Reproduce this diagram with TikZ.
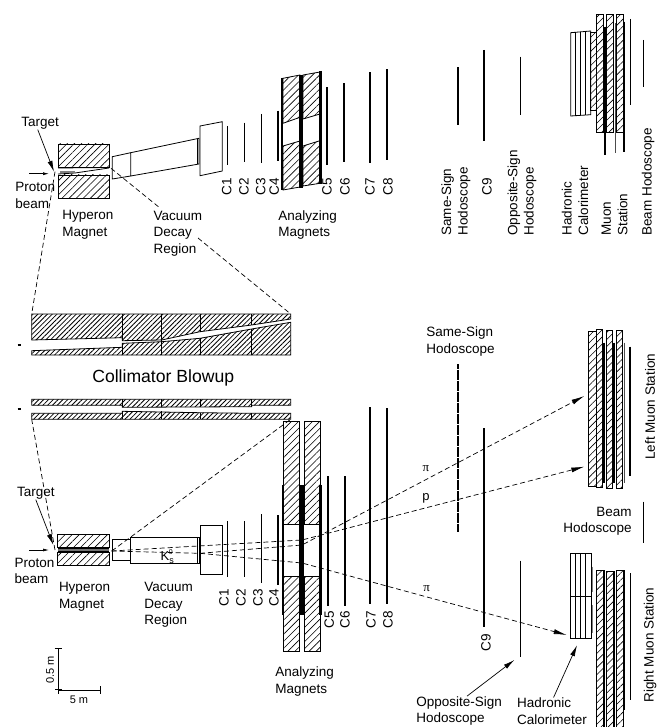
\documentclass[tikz,border=0pt]{standalone}
\usepackage{fontspec}
\setmainfont{Liberation Sans}
\newfontfamily\greekfont{Liberation Serif}
\usetikzlibrary{arrows.meta,patterns.meta}
\begin{document}
\begin{tikzpicture}[x=1pt,y=-1pt,semithick,
        lab/.style = {inner sep=0pt, anchor=west, align=left, font=\fontsize{13.5}{16.5}\selectfont},
        rot/.style = {lab, rotate=90},
        small/.style = {inner sep=0pt, font=\fontsize{11}{13}\selectfont},
        hatchbox/.style = {draw, line width=.8pt, pattern={Lines[angle=45,distance=5pt,line width=.6pt]}},
        finehatch/.style = {draw, line width=.8pt, pattern={Lines[angle=45,distance=3.4pt,line width=.8pt]}},
        box/.style = {draw, line width=.8pt},
        bar/.style = {line width=#1},
        track/.style = {line width=.7pt, dash pattern=on 5pt off 3pt},
        tiptrack/.style = {track, -{Latex[length=13pt,width=5pt]}},
        ptr/.style = {line width=.7pt, -{Latex[length=11pt,width=5pt]}},
        beamptr/.style = {line width=.7pt, -{Latex[length=6pt,width=3pt]}},
        scalebar/.style = {line width=.8pt, {Bar[width=7.5pt]}-{Bar[width=7.5pt]}}]
            \useasboundingbox (0,0) rectangle (657,727);

            \coordinate (topfocus) at (55,171.7);
            \coordinate (topexit) at (111,168.3);
            \coordinate (gapa) at (160,208);
            \coordinate (gapb) at (198,238);
            \coordinate (lowfocus) at (55,550);
            \coordinate (lowexit) at (111.7,551);
            \coordinate (topleft) at (31.7,314);
            \coordinate (topright) at (290.7,314);
            \coordinate (lowleft) at (31.7,419.3);
            \coordinate (lowright) at (290.7,419.3);
            \coordinate (decay) at (200,553.3);
            \coordinate (bendp) at (302,540);
            \coordinate (bendu) at (302,545);
            \coordinate (bendd) at (302,563);
            \coordinate (endp) at (584.3,466.7);
            \coordinate (endu) at (584.3,396);
            \coordinate (endd) at (566.7,635);

            \draw[hatchbox] (58,144) rectangle (109,167);
            \draw[hatchbox] (58,175) rectangle (109,198);
            \draw[box] (58,168) -- (109,167.5) (58,174) -- (75,173) -- (109,168);
            \fill[gray] (60,171) rectangle (75,173.5);
            \draw[box] (112.3,156.7) -- (130.7,152.7) -- (130.7,176) -- (112.3,179) -- cycle;
            \draw[box] (130.7,152.7) -- (199,138.3) -- (199,164) -- (130.7,176);
            \draw[box] (197,138.7) -- (197,164.4);
            \draw[box] (200,126) -- (222.3,121.7) -- (222.3,171) -- (200,175.7) -- cycle;
            \draw[bar=1.5pt] (227.7,126) -- (227.7,165);
            \draw[bar=1.5pt] (244.3,122.7) -- (244.3,162);
            \draw[bar=1.2pt] (261.3,114) -- (261.3,163.3);
            \draw[bar=1.2pt] (278,110.7) -- (278,161);
            \draw[hatchbox] (283,78.3) -- (300,75) -- (300,117.3) -- (283,123.3) -- cycle;
            \draw[hatchbox] (283,146) -- (300,141) -- (300,187) -- (283,190) -- cycle;
            \draw[hatchbox] (303,75) -- (320,72) -- (320,114) -- (303,119) -- cycle;
            \draw[hatchbox] (303,146) -- (320,140.7) -- (320,183.3) -- (303,186) -- cycle;
            \draw[bar=2pt] (282.3,78) -- (282.3,190);
            \draw[bar=4pt] (301.3,75) -- (301.3,188);
            \draw[bar=2.5pt] (320.5,71) -- (320.5,184);
            \draw[bar=2pt] (327.3,87.3) -- (327.3,165);
            \draw[bar=2pt] (344.3,83.3) -- (344.3,161.7);
            \draw[bar=2pt] (370,72.3) -- (370,163.3);
            \draw[bar=2pt] (387.3,69.3) -- (387.3,160);
            \draw[bar=1.8pt] (458,67.3) -- (458,125);
            \draw[bar=2pt] (484.3,50) -- (484.3,141);
            \draw[bar=1.5pt] (520.7,56.7) -- (520.7,115);

            \draw[box] (570.7,32.7) -- (590.7,31) -- (590.7,114.7) -- (570.7,116) -- cycle;
            \draw[box] (575.7,32.3) -- (575.7,115.7) (580.7,31.9) -- (580.7,115.3) (585.7,31.5) -- (585.7,115);
            \draw[hatchbox] (590.7,32) rectangle (596.7,110);
            \draw[hatchbox] (596.7,14.3) rectangle (603.3,132.7);
            \draw[hatchbox] (606.7,14.3) rectangle (613.3,132.7);
            \draw[hatchbox] (616.7,14.3) rectangle (623.3,132.7);
            \draw[bar=1.8pt] (605,26.7) -- (605,155);
            \draw[bar=.9pt, black!70] (615,23.3) -- (615,153.3);
            \draw[bar=1.5pt] (624,21.7) -- (624,151.7);
            \draw[bar=1pt] (630.7,19) -- (630.7,105);
            \draw[bar=1pt] (643,40) -- (643,87.3);

            \node[lab] (target1) at (21,123.3) {Target};
            \node[lab] (proton1) at (15,195.5) {Proton\\beam};
            \node[lab] (hyperon1) at (62,225) {Hyperon\\Magnet};
            \node[lab] (vacuum1) at (153.3,233.3) {Vacuum\\Decay\\Region};
            \node[lab] (analyz1) at (278,225) {Analyzing\\Magnets};
            \node[rot] (c1a) at (226.7,196) {C1};
            \node[rot] (c2a) at (244,196) {C2};
            \node[rot] (c3a) at (260.7,196) {C3};
            \node[rot] (c4a) at (274.3,196) {C4};
            \node[rot] (c5a) at (327,196) {C5};
            \node[rot] (c6a) at (345,196) {C6};
            \node[rot] (c7a) at (370,196) {C7};
            \node[rot] (c8a) at (388,196) {C8};
            \node[rot] (same1) at (456,236) {Same-Sign\\Hodoscope};
            \node[rot] (c9a) at (487,196) {C9};
            \node[rot] (oppo1) at (522,236) {Opposite-Sign\\Hodoscope};
            \node[rot] (hadr1) at (575,236) {Hadronic\\Calorimeter};
            \node[rot] (muon1) at (614.5,236) {Muon\\Station};
            \node[rot] (beam1) at (648,236) {Beam Hodoscope};

            \coordinate (tgt1) at (54,171.7);
            \coordinate (pa1) at (29,173.7);
            \coordinate (pb1) at (49,173.7);
            \draw[ptr] (target1.250) -- (tgt1);
            \draw[beamptr] (pa1) -- (pb1);
            \draw[track] (topfocus) -- (topleft);
            \draw[track] (topexit) -- (gapa) (gapb) -- (topright);

            \draw[finehatch] (31.7,314) -- (290.7,314) -- (290.7,319) -- (251.7,325) -- (200,331.7) -- (161.7,340) -- (122.3,340.7) -- (122.3,337.7) -- (31.7,340) -- cycle;
            \draw[finehatch] (31.7,355) -- (290.7,355) -- (290.7,322.3) -- (251.7,329) -- (200,338.3) -- (161.7,341.7) -- (122.3,343.3) -- (122.3,347.3) -- (31.7,350.7) -- cycle;
            \draw[box] (122.3,314) -- (122.3,340.7) (161.7,314) -- (161.7,355) (200,314) -- (200,331.7) (251.7,314) -- (251.7,325);
            \draw[box] (122.3,343.3) -- (122.3,355) (200,338.3) -- (200,355) (251.7,329) -- (251.7,355);
            \draw[bar=1.5pt] (17.5,345) -- (20.5,345);
            \node[lab, font=\fontsize{17.6}{20}\selectfont] (blowup) at (92,378) {Collimator Blowup};
            \draw[finehatch] (31.7,399.3) -- (290.7,399.3) -- (290.7,405.3) -- (251.7,405.3) -- (251.7,406.7) -- (122.3,407.3) -- (122.3,405.3) -- (31.7,405.3) -- cycle;
            \draw[finehatch] (31.7,419.3) -- (290.7,419.3) -- (290.7,413.3) -- (251.7,413.3) -- (200,412.7) -- (122.3,411.3) -- (122.3,413.3) -- (31.7,413.3) -- cycle;
            \draw[box] (122.3,399.3) -- (122.3,407.3) (161.7,399.3) -- (161.7,407.3) (200,399.3) -- (200,407) (251.7,399.3) -- (251.7,406.7);
            \draw[box] (122.3,411.3) -- (122.3,419.3) (161.7,411.3) -- (161.7,419.3) (200,412.7) -- (200,419.3) (251.7,413.3) -- (251.7,419.3);
            \draw[bar=1.5pt] (17.5,409) -- (20.5,409);

            \draw[hatchbox] (57.7,534.3) rectangle (109.3,547.7);
            \draw[hatchbox] (57.7,552.3) rectangle (109.3,565.3);
            \fill[black!55] (57.7,547.7) rectangle (109.3,552.3);
            \draw[bar=1.3pt] (57.7,548) -- (109.3,548) (57.7,552) -- (109.3,552);
            \draw[box] (112.3,539.3) rectangle (130.7,560.7);
            \draw[box] (130.7,537.3) rectangle (199,563.3);
            \draw[box] (197,537.3) -- (197,563.3);
            \draw[box] (200,525.3) rectangle (222.3,574.7);
            \draw[bar=1.5pt] (227.7,521.3) -- (227.7,577.3);
            \draw[bar=1.5pt] (244.3,521.3) -- (244.3,577.3);
            \draw[bar=1.2pt] (261.3,514) -- (261.3,583.3);
            \draw[bar=1.2pt] (278,515.3) -- (278,585);
            \draw[hatchbox] (283.7,421) rectangle (299.3,524.3);
            \draw[hatchbox] (283.7,576) rectangle (299.3,651.7);
            \draw[hatchbox] (304,421) rectangle (320,524.3);
            \draw[hatchbox] (304,576) rectangle (320,651.7);
            \draw[box] (283.7,524.3) -- (320,524.3) (283.7,576) -- (320,576);
            \draw[bar=2pt] (282.7,485) -- (282.7,615);
            \draw[bar=5.5pt] (301.7,485) -- (301.7,615);
            \draw[bar=2.5pt] (320.3,485) -- (320.3,615);
            \draw[bar=2pt] (327.7,476) -- (327.7,606);
            \draw[bar=1.8pt] (344.7,476) -- (344.7,606);
            \draw[bar=2pt] (370,407.3) -- (370,604);
            \draw[bar=2pt] (387,408.3) -- (387,604);
            \draw[bar=1.8pt, dash pattern=on 5pt off .5pt] (458,364) -- (458,532);
            \draw[bar=2pt] (484.2,428.3) -- (484.2,626.7);
            \draw[bar=1.5pt] (520.3,560.7) -- (520.3,657.3);

            \draw[hatchbox] (588.3,331.7) rectangle (596,486.7);
            \draw[hatchbox] (596.3,329.3) rectangle (602.7,487.7);
            \draw[hatchbox] (606.7,330) rectangle (612.7,488.3);
            \draw[hatchbox] (616.7,330) rectangle (622.7,488.3);
            \draw[bar=2pt] (604,342.7) -- (604,483);
            \draw[bar=2pt] (614.3,342.7) -- (614.3,483);
            \draw[bar=1.2pt, black!70] (624.3,342.7) -- (624.3,483);
            \draw[bar=2pt] (630,346.7) -- (630,476);
            \draw[bar=1pt] (643.3,501.7) -- (643.3,543.3);

            \draw[box] (570.3,553.7) rectangle (591,638);
            \draw[box] (570.3,596) -- (591,596);
            \draw[box] (575.7,553.7) -- (575.7,638) (580.7,553.7) -- (580.7,638) (585.7,553.7) -- (585.7,638);
            \draw[bar=1pt, gray] (592.7,566.7) -- (592.7,591.7) (592.7,605) -- (592.7,633);
            \draw[hatchbox] (596.7,570) rectangle (603.3,732);
            \draw[hatchbox] (606.7,571) rectangle (613.3,732);
            \draw[hatchbox] (616.7,570) rectangle (623.3,732);
            \draw[bar=1.5pt] (604.7,570) -- (604.7,727);
            \draw[bar=1.5pt] (614.7,571) -- (614.7,727);
            \draw[bar=2.5pt] (624,570) -- (624,710);
            \draw[bar=1pt] (630.7,573) -- (630.7,700);

            \node[lab] (target2) at (16.7,493.3) {Target};
            \node[lab] (proton2) at (14.3,571) {Proton\\beam};
            \node[lab] (hyperon2) at (58.7,596.7) {Hyperon\\Magnet};
            \node[lab] (vacuum2) at (144,605) {Vacuum\\Decay\\Region};
            \node[lab] (analyz2) at (275,681.7) {Analyzing\\Magnets};
            \node[rot] (c1b) at (224,607) {C1};
            \node[rot] (c2b) at (241,607) {C2};
            \node[rot] (c3b) at (258,607) {C3};
            \node[rot] (c4b) at (274,607) {C4};
            \node[rot] (c5b) at (329.3,629) {C5};
            \node[rot] (c6b) at (345,629) {C6};
            \node[rot] (c7b) at (371,629) {C7};
            \node[rot] (c8b) at (388,629) {C8};
            \node[rot] (c9b) at (486,651.7) {C9};
            \node[lab] (same2) at (426,341.3) {Same-Sign\\Hodoscope};
            \node[lab] (oppo2) at (416,711) {Opposite-Sign\\Hodoscope};
            \node[lab] (hadr2) at (516.7,711) {Hadronic\\Calorimeter};
            \node[lab, anchor=east, align=right] (beam2) at (632,521.5) {Beam\\Hodoscope};
            \node[rot] (muonl) at (650,460) {Left Muon Station};
            \node[rot] (muonr) at (650,702.7) {Right Muon Station};
            \node[small, font=\greekfont\fontsize{13}{15}\selectfont] (pia) at (426,469) {π};
            \node[small, font=\fontsize{13}{15}\selectfont] (plab) at (426,498) {p};
            \node[small, font=\greekfont\fontsize{13}{15}\selectfont] (pib) at (426.7,589) {π};
            \node[small, font=\fontsize{13}{15}\selectfont] (kshort) at (166.7,556.7) {K\raisebox{-2.5pt}{\fontsize{9}{10}\selectfont s}\hspace{-5pt}\raisebox{6pt}{\fontsize{7}{8}\selectfont 0}};

            \coordinate (tgt2) at (53.3,545);
            \coordinate (pa2) at (29,550);
            \coordinate (pb2) at (49,550);
            \coordinate (hoend) at (514.3,660);
            \coordinate (caend) at (577,645.3);
            \draw[ptr] (target2.south) -- (tgt2);
            \draw[beamptr] (pa2) -- (pb2);
            \draw[ptr] (oppo2.62) -- (hoend);
            \draw[ptr] (hadr2.83) -- (caend);
            \draw[track] (lowfocus) -- (lowleft);
            \draw[track] (lowexit) -- (lowright);
            \draw[tiptrack] (lowexit) -- (bendp) -- (endp);
            \draw[track] (lowexit) -- (decay);
            \draw[tiptrack] (decay) -- (bendu) -- (endu);
            \draw[tiptrack] (decay) -- (bendd) -- (endd);

            \coordinate (scaleo) at (58.3,690);
            \coordinate (scalex) at (101,690);
            \coordinate (scaley) at (58.3,647.7);
            \draw[scalebar] (scaleo) -- (scalex);
            \draw[scalebar] (scaleo) -- (scaley);
            \node[small, rotate=90] (halfm) at (50,670) {0.5 m};
            \node[small] (fivem) at (79,700) {5 m};
        \end{tikzpicture}
\end{document}
